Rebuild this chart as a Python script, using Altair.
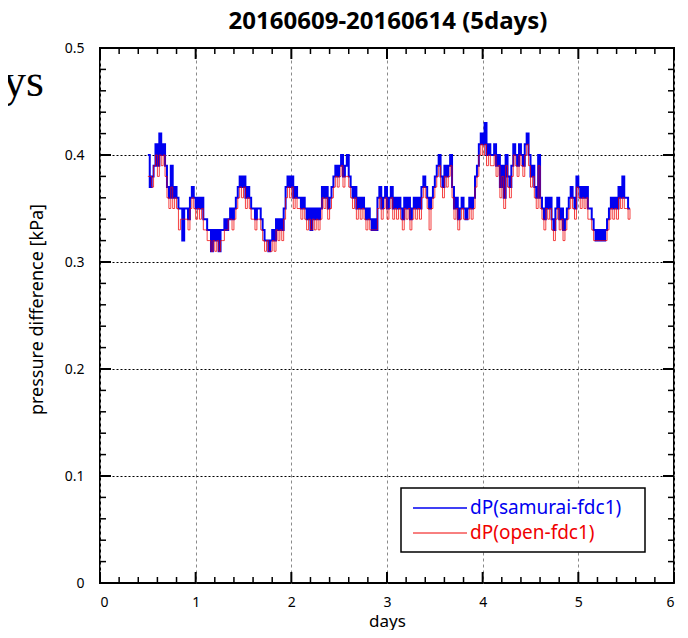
import altair as alt
import pandas as pd

# ---------------- data (hundredths of kPa, sampled every 0.02 day from day 0.50) ----------------
start_day = 0.50
step_day = 0.02

samurai = [
    40, 37, 38, 39, 41, 39, 42, 40, 41, 39,   # 0.50
    37, 36, 39, 36, 37, 36, 35, 35, 32, 35,   # 0.70
    35, 34, 36, 37, 36, 35, 36, 35, 36, 34,   # 0.90
    34, 33, 33, 31, 33, 32, 33, 31, 33, 33,   # 1.10
    34, 33, 34, 35, 34, 35, 36, 37, 38, 37,   # 1.30
    38, 36, 37, 36, 35, 35, 34, 35, 35, 34,   # 1.50
    33, 32, 32, 31, 32, 33, 32, 34, 33, 34,   # 1.70
    33, 35, 37, 38, 37, 38, 36, 37, 36, 36,   # 1.90
    35, 36, 35, 34, 35, 33, 35, 34, 35, 34,   # 2.10
    35, 37, 36, 37, 35, 36, 37, 38, 39, 38,   # 2.30
    39, 40, 38, 39, 40, 38, 37, 36, 37, 35,   # 2.50
    36, 35, 36, 35, 34, 35, 34, 33, 34, 33,   # 2.70
    36, 37, 35, 36, 37, 35, 36, 37, 35, 36,   # 2.90
    35, 36, 35, 34, 36, 35, 36, 34, 35, 36,   # 3.10
    35, 36, 35, 37, 38, 37, 36, 35, 36, 37,   # 3.30
    38, 39, 40, 38, 37, 39, 38, 39, 40, 37,   # 3.50
    35, 36, 34, 35, 36, 35, 34, 35, 36, 35,   # 3.70
    36, 38, 39, 41, 42, 41, 43, 40, 41, 40,   # 3.90
    40, 41, 39, 40, 37, 39, 36, 40, 38, 37,   # 4.10
    39, 41, 40, 39, 41, 40, 39, 41, 42, 40,   # 4.30
    38, 39, 37, 36, 40, 36, 35, 34, 36, 35,   # 4.50
    36, 34, 33, 35, 36, 34, 35, 33, 34, 35,   # 4.70
    36, 37, 36, 35, 38, 37, 36, 37, 36, 37,   # 4.90
    35, 35, 34, 33, 32, 33, 32, 33, 32, 33,   # 5.10
    34, 35, 36, 35, 36, 35, 37, 36, 38, 36,   # 5.30
    36, 35, 35,                               # 5.50
]

open_fdc = [
    38, 38, 37, 39, 40, 38, 40, 39, 40, 38,   # 0.50
    36, 35, 37, 35, 36, 35, 33, 34, 34, 34,   # 0.70
    34, 33, 35, 36, 35, 34, 35, 34, 35, 33,   # 0.90
    33, 32, 32, 31, 32, 31, 32, 31, 32, 32,   # 1.10
    33, 33, 34, 34, 33, 34, 35, 36, 37, 36,   # 1.30
    37, 35, 36, 35, 34, 34, 33, 34, 34, 33,   # 1.50
    32, 31, 32, 31, 31, 32, 31, 33, 32, 33,   # 1.70
    32, 34, 36, 37, 36, 37, 35, 36, 35, 35,   # 1.90
    34, 35, 34, 33, 34, 33, 34, 33, 34, 33,   # 2.10
    34, 36, 35, 36, 34, 35, 36, 37, 38, 37,   # 2.30
    38, 39, 37, 38, 38, 37, 36, 35, 36, 34,   # 2.50
    35, 34, 35, 34, 33, 34, 33, 33, 33, 33,   # 2.70
    35, 36, 34, 35, 36, 34, 35, 36, 34, 35,   # 2.90
    34, 35, 34, 33, 35, 34, 35, 33, 34, 35,   # 3.10
    34, 35, 34, 36, 37, 36, 35, 33, 35, 36,   # 3.30
    37, 38, 39, 37, 36, 38, 37, 38, 39, 36,   # 3.50
    34, 35, 33, 34, 35, 34, 34, 34, 35, 34,   # 3.70
    35, 37, 38, 40, 41, 40, 41, 39, 40, 39,   # 3.90
    39, 40, 38, 39, 36, 38, 35, 39, 37, 36,   # 4.10
    38, 40, 39, 38, 40, 39, 38, 40, 41, 39,   # 4.30
    37, 38, 36, 35, 39, 35, 34, 33, 35, 34,   # 4.50
    35, 33, 32, 34, 35, 33, 34, 32, 33, 34,   # 4.70
    35, 36, 35, 34, 37, 36, 35, 36, 35, 36,   # 4.90
    34, 34, 33, 32, 32, 32, 32, 32, 32, 32,   # 5.10
    33, 34, 35, 34, 35, 34, 36, 35, 36, 35,   # 5.30
    35, 34, 35,                               # 5.50
]

series_names = ["dP(samurai-fdc1)", "dP(open-fdc1)"]
series_colors = ["#0000f0", "#f00000"]
title_text = "20160609-20160614 (5days)"
x_title = "days"
y_title = "pressure difference [kPa]"
stray_text = "ys"

x_major = [0, 1, 2, 3, 4, 5, 6]
y_major = [0.0, 0.1, 0.2, 0.3, 0.4, 0.5]
x_minor = [round(i * 0.2, 2) for i in range(31) if i % 5 != 0]
y_minor = [round(i * 0.02, 3) for i in range(26) if i % 5 != 0]

# ---------------- layout ----------------
W, H = 574, 535
FONT = "Noto Sans"

def series_df(vals):
    return pd.DataFrame({
        "day": [start_day + i * step_day for i in range(len(vals))],
        "dp": [v / 100.0 for v in vals],
    })

x_scale = alt.Scale(domain=[0, 6], nice=False, zero=False)
y_scale = alt.Scale(domain=[0, 0.5], nice=False, zero=False)

x_axis = alt.Axis(values=x_major, ticks=False, domain=False, grid=True,
                  gridColor="#8a8a8a", gridDash=[3, 3], gridWidth=1,
                  labelPadding=12, labelFontSize=14, format="d",
                  titleFontSize=17, titleFontWeight="normal",
                  titleY=43, titleBaseline="alphabetic")
y_axis = alt.Axis(values=y_major, ticks=False, domain=False, grid=True,
                  gridColor="#000000", gridDash=[2, 2], gridWidth=1,
                  labelPadding=16, labelFontSize=14, format="~g",
                  titleFontSize=18, titleFontWeight="normal",
                  titleX=-63, titleY=261, titleBaseline="middle")

def X(field):
    return alt.X(field, type="quantitative", scale=x_scale, title=x_title, axis=x_axis)

def Y(field):
    return alt.Y(field, type="quantitative", scale=y_scale, title=y_title, axis=y_axis)

blue = alt.Chart(series_df(samurai)).mark_line(
    interpolate="step-after", color=series_colors[0], strokeWidth=2, clip=True
).encode(x=X("day"), y=Y("dp"))

red = alt.Chart(series_df(open_fdc)).mark_line(
    interpolate="step-after", color=series_colors[1], strokeWidth=1, opacity=0.75, clip=True
).encode(x=X("day"), y=Y("dp"))

def yticks(vals, length, left=True, width=2.0):
    x0, x1 = (0, length) if left else (W - length, W)
    return alt.Chart(pd.DataFrame({"v": vals})).mark_rule(color="black", strokeWidth=width).encode(
        y=Y("v"), x=alt.value(x0), x2=alt.value(x1))

def xticks(vals, length, bottom=True, width=2.0):
    y0, y1 = (H - length, H) if bottom else (0, length)
    return alt.Chart(pd.DataFrame({"v": vals})).mark_rule(color="black", strokeWidth=width).encode(
        x=X("v"), y=alt.value(y0), y2=alt.value(y1))

ticks = [
    yticks(y_major, 11, True), yticks(y_minor, 6, True, 1.5),
    yticks(y_major, 11, False), yticks(y_minor, 6, False, 1.5),
    xticks(x_major, 11, True), xticks(x_minor, 6, True, 1.5),
    xticks(x_major, 11, False), xticks(x_minor, 6, False, 1.5),
]

# legend (drawn by hand)
LX0, LX1, LY0, LY1 = 301, 545, 440, 504
leg_box = alt.Chart(pd.DataFrame({"a": [0]})).mark_rect(
    fill="white", stroke="black", strokeWidth=1.5
).encode(x=alt.value(LX0), x2=alt.value(LX1), y=alt.value(LY0), y2=alt.value(LY1))

legend_layers = [leg_box]
leg_rows = [460, 485]
leg_widths = [1.5, 1]
for name, col, yy, sw in zip(series_names, series_colors, leg_rows, leg_widths):
    d = pd.DataFrame({"label": [name]})
    legend_layers.append(alt.Chart(d).mark_rule(color=col, strokeWidth=sw).encode(
        x=alt.value(313), x2=alt.value(367), y=alt.value(yy)))
    legend_layers.append(alt.Chart(d).mark_text(
        align="left", baseline="middle", fontSize=19, font=FONT, color=col
    ).encode(x=alt.value(370), y=alt.value(yy), text="label:N"))

stray = alt.Chart(pd.DataFrame({"t": [stray_text]})).mark_text(
    align="left", baseline="alphabetic", fontSize=46, font="Liberation Serif", color="black"
).encode(x=alt.value(-97), y=alt.value(48), text="t:N")

title_mark = alt.Chart(pd.DataFrame({"t": [title_text]})).mark_text(
    align="center", baseline="alphabetic", fontSize=24, font=FONT, fontWeight="bold", color="black"
).encode(x=alt.value(W / 2 + 1), y=alt.value(-19), text="t:N")

chart = alt.layer(blue, red, *ticks, *legend_layers, stray, title_mark).properties(
    width=W, height=H,
    autosize=alt.AutoSizeParams(type="none"),
    padding={"left": 92, "top": 40, "right": 6, "bottom": 47},
).configure_view(stroke="black", strokeWidth=2).configure_axis(
    labelFont=FONT, titleFont=FONT, labelColor="black", titleColor="black"
)

chart.save("out.html", embed_options={"renderer": "svg", "actions": False})
